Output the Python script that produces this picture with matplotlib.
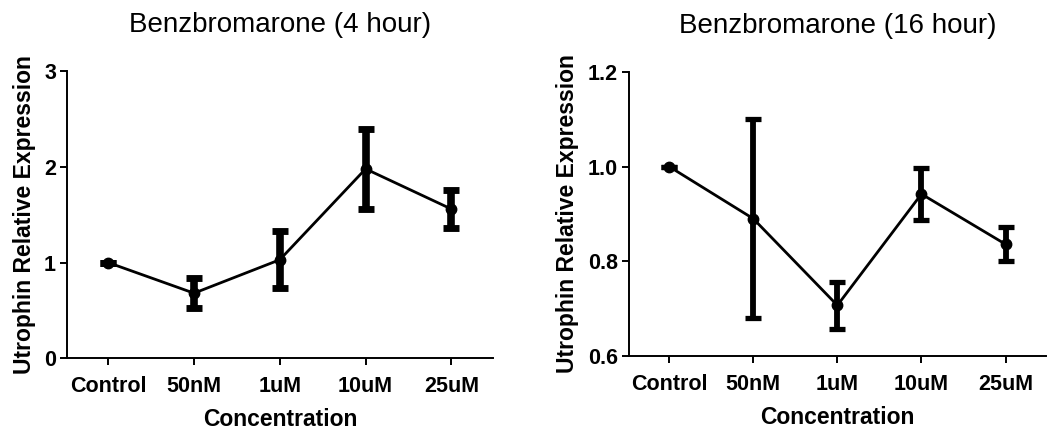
import matplotlib
matplotlib.use("Agg")
import matplotlib.pyplot as plt

plt.rcParams['font.family'] = ['Liberation Sans', 'DejaVu Sans']

concentrations = ["Control", "50nM", "1uM", "10uM", "25uM"]

# 4 hour treatment
mean_4h = [1.0, 0.68, 1.03, 1.98, 1.56]
err_4h = [0.0, 0.16, 0.30, 0.42, 0.20]

# 16 hour treatment
mean_16h = [1.0, 0.89, 0.707, 0.942, 0.836]
err_16h = [0.0, 0.21, 0.05, 0.054, 0.036]

fig = plt.figure(figsize=(10.48, 4.30), dpi=100)
ax1 = fig.add_axes([0.064, 0.167, 0.406, 0.667])
ax2 = fig.add_axes([0.600, 0.172, 0.398, 0.661])


def draw_panel(ax, means, errs, title, ylim, yticks, ytick_labels, elw, cap):
    x = range(len(concentrations))
    ax.plot(x, means, color='black', lw=2.0, zorder=2)
    ax.errorbar(x, means, yerr=errs, fmt='none', ecolor='black',
                elinewidth=elw, capsize=cap, capthick=elw * 0.9, zorder=3)
    ax.plot(x, means, 'o', color='black', ms=7.5, zorder=4)
    ax.set_xlim(-0.48, 4.48)
    ax.set_ylim(*ylim)
    ax.set_xticks(list(x))
    ax.set_xticklabels(concentrations, fontsize=15.5, fontweight='bold')
    ax.set_yticks(yticks)
    ax.set_yticklabels(ytick_labels, fontsize=15.5, fontweight='bold')
    for side in ('top', 'right'):
        ax.spines[side].set_visible(False)
    for side in ('left', 'bottom'):
        ax.spines[side].set_linewidth(1.4)
    ax.tick_params(direction='out', length=5, width=1.4, pad=3)
    ax.tick_params(axis='x', pad=8)
    ax.set_title(title, fontsize=20, pad=28)
    ax.set_xlabel("Concentration", fontsize=16.5, fontweight='bold', labelpad=8)
    ax.set_ylabel("Utrophin Relative Expression", fontsize=16.5,
                  fontweight='bold', labelpad=6)


draw_panel(ax1, mean_4h, err_4h, "Benzbromarone (4 hour)",
           (0, 3), [0, 1, 2, 3], ["0", "1", "2", "3"], 5.5, 5.5)
draw_panel(ax2, mean_16h, err_16h, "Benzbromarone (16 hour)",
           (0.6, 1.2), [0.6, 0.8, 1.0, 1.2], ["0.6", "0.8", "1.0", "1.2"], 4.2, 5.5)

fig.savefig("out.png", dpi=100)
